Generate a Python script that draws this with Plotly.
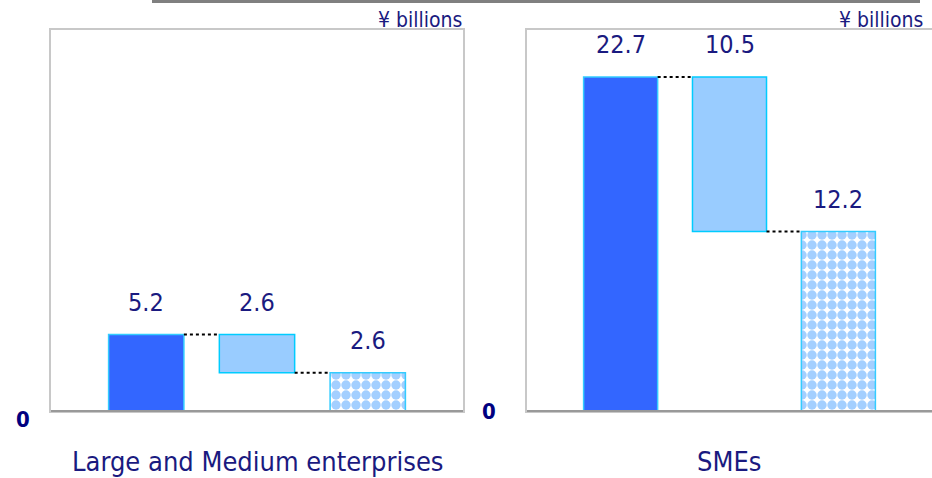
import plotly.graph_objects as go

# Data
panels = ["Large and Medium enterprises", "SMEs"]
totals = [5.2, 22.7]
decreases = [2.6, 10.5]
remainders = [2.6, 12.2]
unit_label = "¥ billions"
zero_tick = ["0"]

NAVY = "#1a1a80"
FONT = "Noto Sans Condensed, DejaVu Sans Condensed, sans-serif"
W, H = 932, 478

fig = go.Figure()

domains = [[51 / W, 463 / W], [527 / W, 1.0]]
ydom = [(H - 411) / H, (H - 30) / H]
xr = [-0.86, 2.86]
yr = [0, 25.9]
bw = 0.68

for i in range(2):
    xa = "x" if i == 0 else "x2"
    ya = "y" if i == 0 else "y2"
    t, d, r = totals[i], decreases[i], remainders[i]
    fig.add_trace(go.Bar(x=[0], y=[t], base=[0], width=[bw], xaxis=xa, yaxis=ya,
                         marker=dict(color="#3366ff", line=dict(color="#33ccff", width=1.5)),
                         showlegend=False, hoverinfo="skip"))
    fig.add_trace(go.Bar(x=[1], y=[d], base=[t - d], width=[bw], xaxis=xa, yaxis=ya,
                         marker=dict(color="#99ccff", line=dict(color="#00ccff", width=1.5)),
                         showlegend=False, hoverinfo="skip"))
    fig.add_trace(go.Bar(x=[2], y=[r], base=[0], width=[bw], xaxis=xa, yaxis=ya,
                         marker=dict(color="white", line=dict(color="#33ccff", width=1.5),
                                     pattern=dict(shape=".", fgcolor="#a3cfff", bgcolor="white",
                                                  fgopacity=1, size=10, solidity=0.7)),
                         showlegend=False, hoverinfo="skip"))
    fig.add_shape(type="line", xref=xa, yref=ya, x0=0 + bw / 2, x1=1 - bw / 2, y0=t, y1=t,
                  line=dict(color="black", width=2, dash="dot"))
    fig.add_shape(type="line", xref=xa, yref=ya, x0=1 + bw / 2, x1=2 - bw / 2, y0=r, y1=r,
                  line=dict(color="black", width=2, dash="dot"))
    for xv, yv, txt in [(0, t, totals[i]), (1, t, decreases[i]), (2, r, remainders[i])]:
        fig.add_annotation(x=xv, y=yv, xref=xa, yref=ya, text=f"{txt}", showarrow=False,
                           yanchor="bottom", yshift=16, font=dict(size=25, color=NAVY, family=FONT))
    fig.add_annotation(x=(464 if i == 0 else 925) / W, y=(H - 20) / H, xref="paper", yref="paper",
                       text=unit_label, showarrow=False, xanchor="right", yanchor="middle",
                       font=dict(size=21, color=NAVY, family=FONT))
    fig.add_annotation(x=(258 if i == 0 else 729) / W, y=(H - 461) / H, xref="paper", yref="paper",
                       text=panels[i], showarrow=False, xanchor="center", yanchor="middle",
                       font=dict(size=27, color=NAVY, family=FONT))
    fig.add_shape(type="line", xref="paper", yref="paper", x0=domains[i][0], x1=domains[i][1],
                  y0=ydom[0], y1=ydom[0], line=dict(color="#999999", width=2))

fig.add_shape(type="line", xref="paper", yref="paper", x0=152 / W, x1=920 / W,
              y0=1 - 1.5 / H, y1=1 - 1.5 / H, line=dict(color="#808080", width=3))

axcommon = dict(showgrid=False, zeroline=False, showline=True, automargin=False,
                linecolor="#c8c8c8", linewidth=1.5)
tickfont = dict(size=22, color="#000080", family=FONT, weight="bold")
fig.update_layout(
    width=W, height=H, autosize=False, margin=dict(l=0, r=0, t=0, b=0, pad=0, autoexpand=False),
    paper_bgcolor="white", plot_bgcolor="white", barmode="overlay",
    xaxis=dict(domain=domains[0], range=xr, showticklabels=False, ticks="", mirror=True, **axcommon),
    xaxis2=dict(domain=domains[1], range=xr, showticklabels=False, ticks="", anchor="y2",
                mirror=True, **axcommon),
    yaxis=dict(domain=ydom, range=yr, tickvals=[0], ticktext=zero_tick, mirror=True,
               ticks="", ticklabelstandoff=15, ticklabelshift=8, tickfont=tickfont, **axcommon),
    yaxis2=dict(domain=ydom, range=yr, tickvals=[0], ticktext=zero_tick, mirror=False,
                ticks="", ticklabelstandoff=25, anchor="x2", tickfont=tickfont, **axcommon),
)

fig.write_html("out.html", config={"responsive": False})
